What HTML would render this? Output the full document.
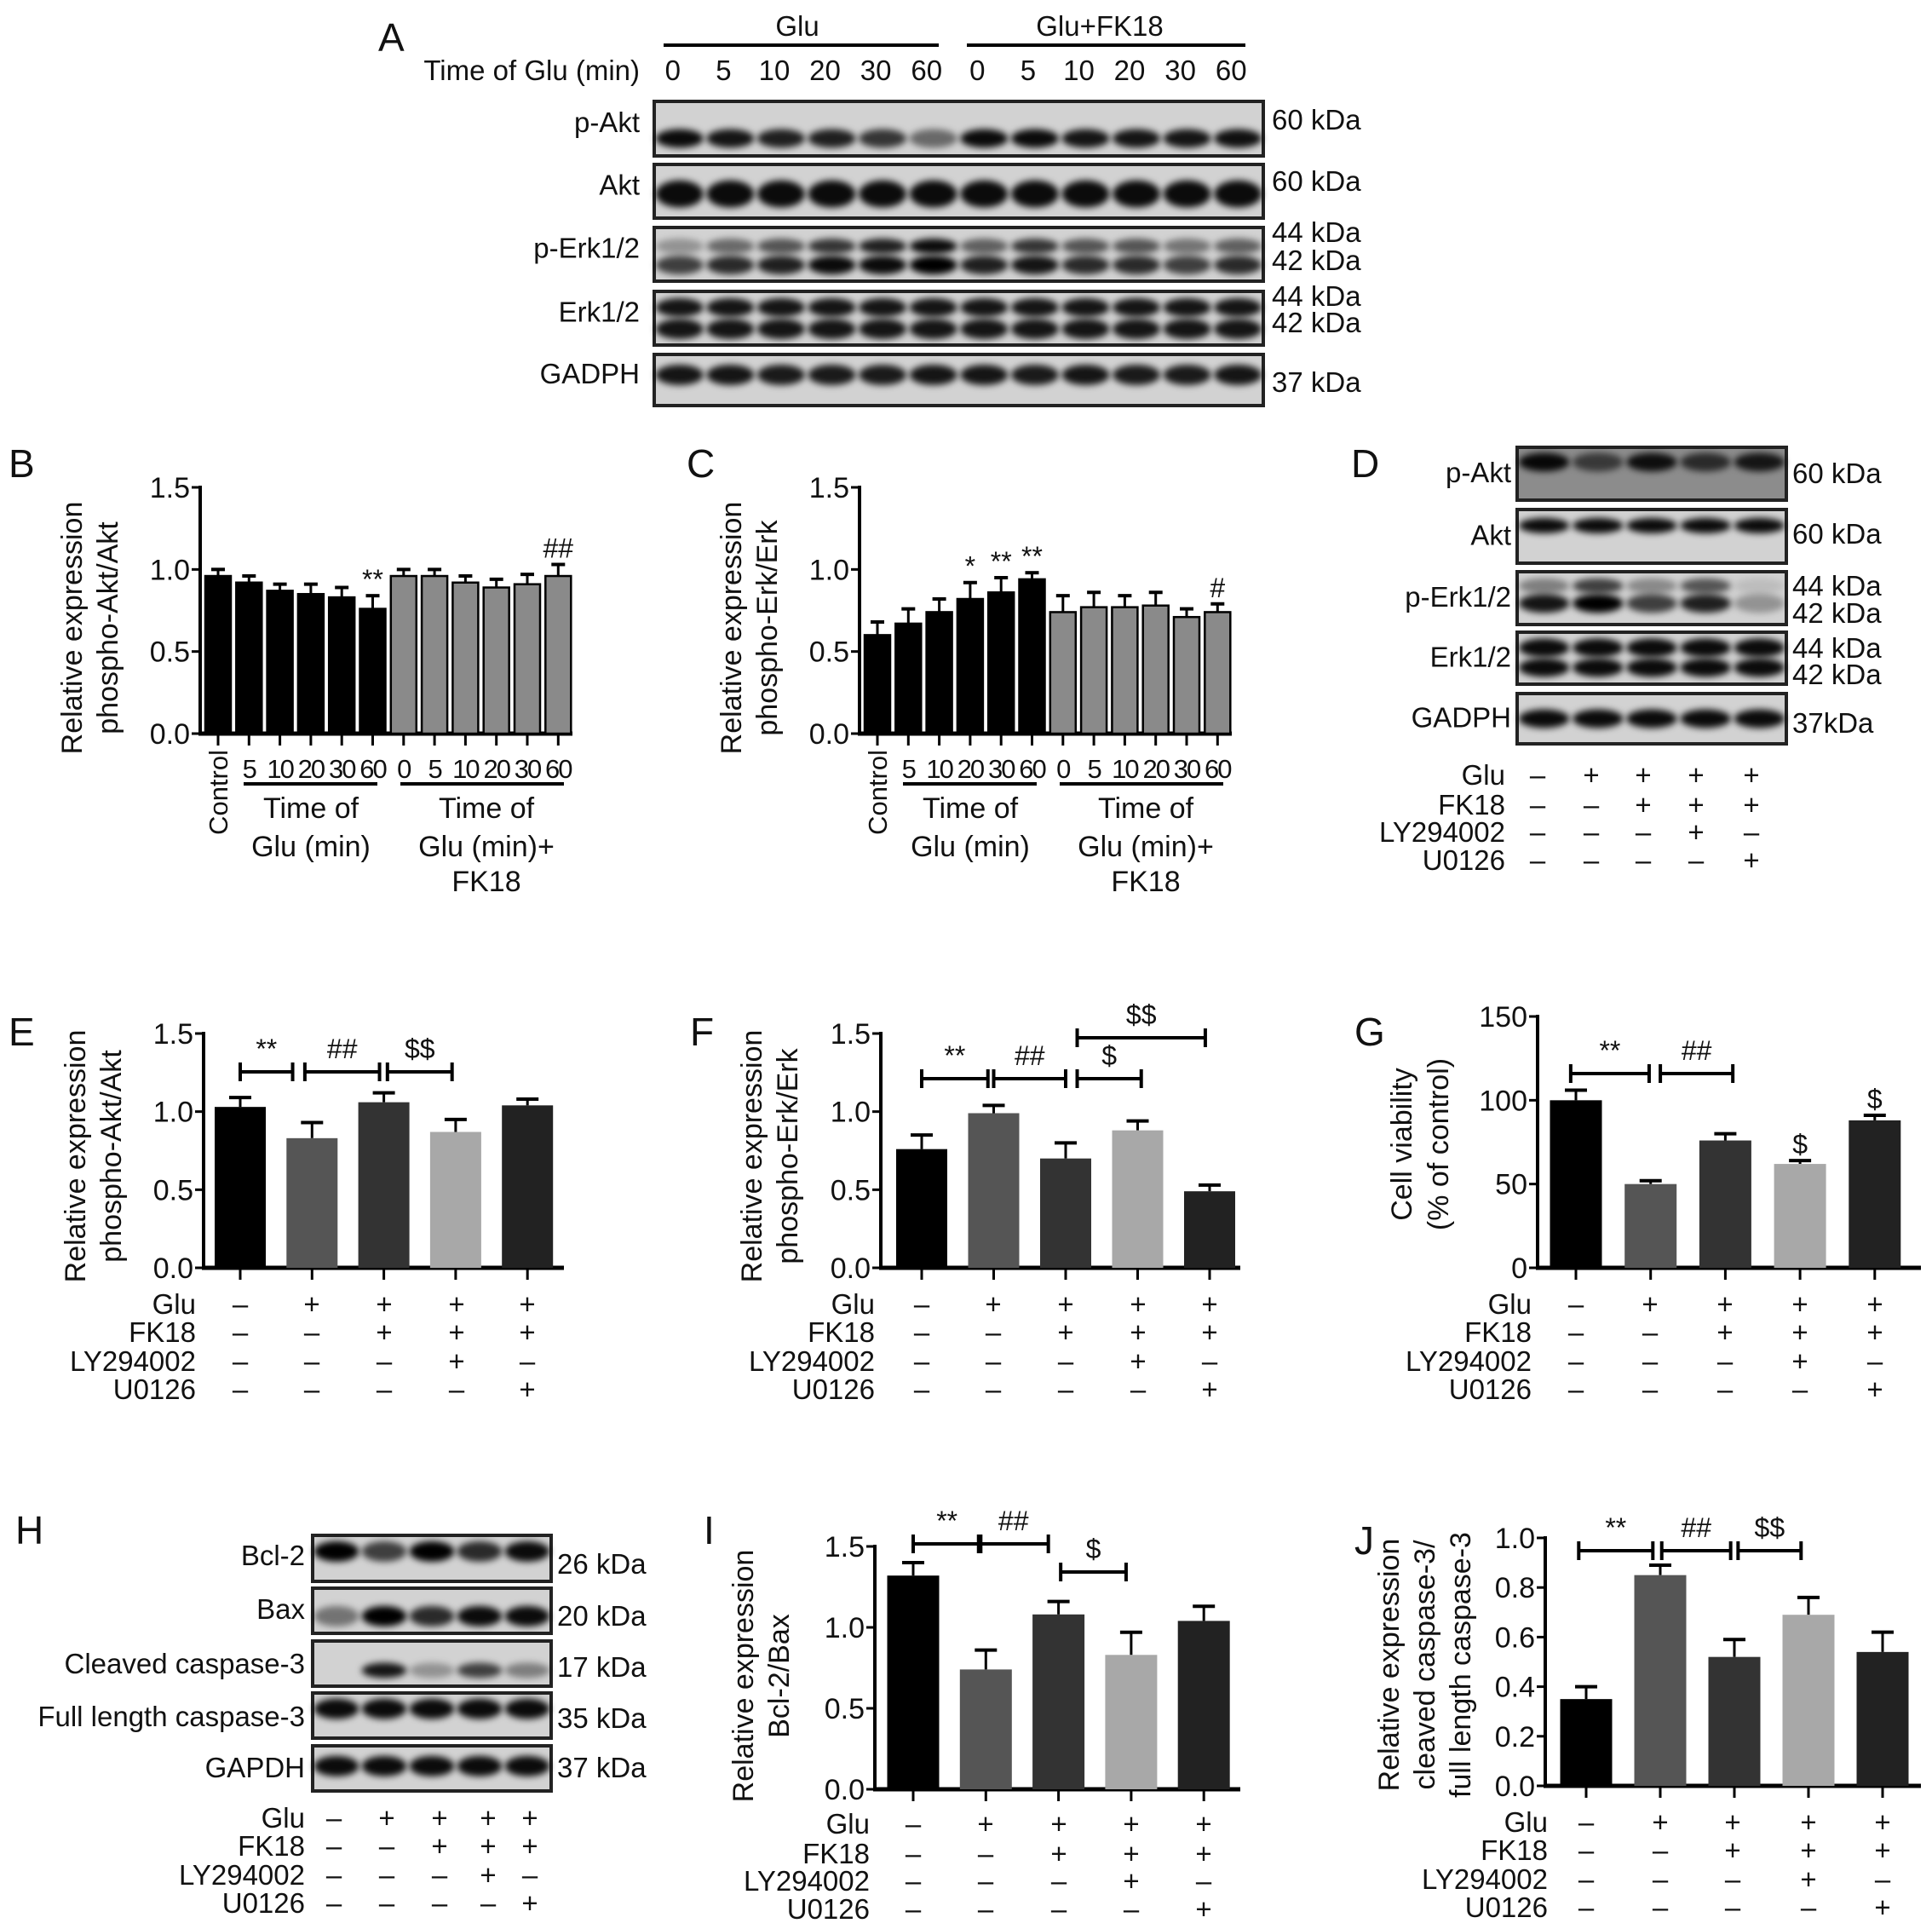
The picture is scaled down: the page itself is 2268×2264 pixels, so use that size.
<!DOCTYPE html>
<html><head><meta charset="utf-8"><title>Figure</title>
<style>
html,body{margin:0;padding:0;background:#fff;}
svg{display:block;font-family:"Liberation Sans",Arial,sans-serif;}
</style></head>
<body>
<svg id="fig" xmlns="http://www.w3.org/2000/svg" width="2268" height="2264" viewBox="0 0 2268 2264">
<defs><filter id="blur" x="-30%" y="-100%" width="160%" height="300%"><feGaussianBlur stdDeviation="4"/></filter></defs>
<rect x="0" y="0" width="2268" height="2264" fill="#fff"/>
</svg>
<script>
// ---------- data ----------
const tickVals15 = [0, 0.5, 1.0, 1.5];
const tickLbl15 = ["0.0", "0.5", "1.0", "1.5"];
const tickValsG = [0, 50, 100, 150];
const tickLblG = ["0", "50", "100", "150"];
const tickValsJ = [0, 0.2, 0.4, 0.6, 0.8, 1.0];
const tickLblJ = ["0.0", "0.2", "0.4", "0.6", "0.8", "1.0"];

const timeLabels = ["0", "5", "10", "20", "30", "60", "0", "5", "10", "20", "30", "60"];
const bCats = ["Control", "5", "10", "20", "30", "60", "0", "5", "10", "20", "30", "60"];
const bVals = [0.96, 0.92, 0.87, 0.85, 0.83, 0.76, 0.96, 0.96, 0.92, 0.89, 0.91, 0.96];
const bErr = [0.04, 0.04, 0.04, 0.06, 0.06, 0.08, 0.04, 0.04, 0.04, 0.05, 0.06, 0.07];
const bSig = ["", "", "", "", "", "**", "", "", "", "", "", "##"];
const cVals = [0.60, 0.67, 0.74, 0.82, 0.86, 0.94, 0.74, 0.77, 0.77, 0.78, 0.71, 0.74];
const cErr = [0.08, 0.09, 0.08, 0.10, 0.09, 0.04, 0.10, 0.09, 0.07, 0.08, 0.05, 0.05];
const cSig = ["", "", "", "*", "**", "**", "", "", "", "", "", "#"];

const treatRows = ["Glu", "FK18", "LY294002", "U0126"];
const treatSigns = [["–","+","+","+","+"],["–","–","+","+","+"],["–","–","–","+","–"],["–","–","–","–","+"]];

const eVals = [1.03, 0.83, 1.06, 0.87, 1.04];
const eErr = [0.06, 0.10, 0.06, 0.08, 0.04];
const fVals = [0.76, 0.99, 0.70, 0.88, 0.49];
const fErr = [0.09, 0.05, 0.10, 0.06, 0.04];
const gVals = [100, 50, 76, 62, 88];
const gErr = [6, 2, 4, 2, 3];
const gSig = ["", "", "", "$", "$"];
const iVals = [1.32, 0.74, 1.08, 0.83, 1.04];
const iErr = [0.08, 0.12, 0.08, 0.14, 0.09];
const jVals = [0.35, 0.85, 0.52, 0.69, 0.54];
const jErr = [0.05, 0.04, 0.07, 0.07, 0.08];
const fiveColors = ["#000000", "#555555", "#333333", "#a8a8a8", "#222222"];

// blot band intensities
const aPAkt = [0.95, 0.9, 0.85, 0.85, 0.75, 0.5, 0.95, 0.95, 0.9, 0.9, 0.9, 0.92];
const aAkt = [0.95, 0.95, 0.95, 0.95, 0.95, 0.95, 0.95, 0.95, 0.95, 0.95, 0.95, 0.95];
const aPErk44 = [0.3, 0.5, 0.6, 0.75, 0.85, 0.95, 0.55, 0.75, 0.6, 0.6, 0.45, 0.55];
const aPErk42 = [0.7, 0.8, 0.85, 0.95, 0.95, 1, 0.85, 0.9, 0.8, 0.8, 0.7, 0.8];
const aErk = [0.9, 0.9, 0.9, 0.9, 0.9, 0.9, 0.9, 0.9, 0.9, 0.9, 0.9, 0.9];
const aGapdh = [0.9, 0.9, 0.88, 0.88, 0.88, 0.9, 0.9, 0.88, 0.9, 0.88, 0.88, 0.9];
const dPAkt = [0.95, 0.6, 0.9, 0.7, 0.85];
const dAkt = [0.95, 0.95, 0.95, 0.95, 0.95];
const dPErk44 = [0.4, 0.7, 0.35, 0.6, 0.1];
const dPErk42 = [0.9, 1, 0.7, 0.85, 0.3];
const dErk = [0.95, 0.95, 0.95, 0.95, 0.95];
const dGapdh = [0.95, 0.95, 0.95, 0.95, 0.95];
const hBcl2 = [1, 0.7, 1, 0.8, 0.95];
const hBax = [0.45, 1, 0.8, 0.95, 0.95];
const hCl3 = [0, 0.9, 0.3, 0.7, 0.4];
const hFull = [0.95, 0.95, 0.95, 0.95, 0.95];
const hGapdh = [0.95, 0.95, 0.95, 0.95, 0.95];

// ---------- helpers ----------
const NS = "http://www.w3.org/2000/svg";
const svg = document.getElementById("fig");
const FS = 34;
function mk(tag, attrs, parent) {
  const e = document.createElementNS(NS, tag);
  for (const k in attrs) e.setAttribute(k, attrs[k]);
  (parent || svg).appendChild(e);
  return e;
}
function txt(s, x, y, size, anchor, parent) {
  const t = mk("text", {x: x, y: y, "font-size": size, "text-anchor": anchor || "start", fill: "#111"}, parent);
  t.textContent = s;
  return t;
}
function group(name) {
  const g = mk("g", {});
  
  
  return g;
}
function yScale(ax, v) { return ax.y0 - (v - ax.min) / (ax.max - ax.min) * (ax.y0 - ax.y1); }
function xBand(ax, i) { return ax.c0 + i * ax.step; }

function panelLetter(s, x, y) {
  const t = txt(s, x, y, 46, "start");
  
  
}

function drawAxes(g, ax, tv, tl) {
  const yl = mk("line", {x1: ax.x, y1: ax.y1 - 2, x2: ax.x, y2: ax.y0, stroke: "#000", "stroke-width": 4}, g);
  
  
  for (let i = 0; i < tv.length; i++) {
    const y = yScale(ax, tv[i]);
    const tk = mk("line", {x1: ax.x - 10, y1: y, x2: ax.x, y2: y, stroke: "#000", "stroke-width": 3}, g);
    
    
    const t = txt(tl[i], ax.x - 12, y + 12, FS, "end", g);
    
    
  }
  const xl = mk("line", {x1: ax.x - 2, y1: ax.y0, x2: ax.xEnd, y2: ax.y0, stroke: "#000", "stroke-width": 5}, g);
  
  
}

function drawBars(g, ax, vals, errs, colors, sig, capHalf, outline) {
  for (let i = 0; i < vals.length; i++) {
    const c = xBand(ax, i);
    const y = yScale(ax, vals[i]);
    const ye = yScale(ax, vals[i] + errs[i]);
    const el = mk("line", {x1: c, y1: y, x2: c, y2: ye, stroke: "#000", "stroke-width": 3}, g);
    
    
    const cap = mk("line", {x1: c - capHalf, y1: ye, x2: c + capHalf, y2: ye, stroke: "#000", "stroke-width": 4}, g);
    
    
    const r = mk("rect", {x: c - ax.bw / 2, y: y, width: ax.bw, height: ax.y0 - y, fill: colors[i]}, g);
    if (outline) { r.setAttribute("stroke", "#000"); r.setAttribute("stroke-width", 2.5); }
    
    
    const tk = mk("line", {x1: c, y1: ax.y0, x2: c, y2: ax.y0 + 14, stroke: "#000", "stroke-width": 3}, g);
    
    
    if (sig && sig[i]) {
      const s = txt(sig[i], c, ye - 8, 32, "middle", g);
      
      
    }
  }
}

function bracket(g, ax, a, b, y, label) {
  const x1 = xBand(ax, a), x2 = xBand(ax, b);
  const l = mk("path", {d: "M" + x1 + " " + (y - 11) + "V" + (y + 11) + "M" + x1 + " " + y + "H" + x2 + "M" + x2 + " " + (y - 11) + "V" + (y + 11), stroke: "#000", "stroke-width": 4, fill: "none"}, g);
  
  
  const t = txt(label, (x1 + x2) / 2, y - 16, 32, "middle", g);
  
  
}

function yTitle(g, lines, x0, dx, cy) {
  for (let i = 0; i < lines.length; i++) {
    const x = x0 + i * dx;
    const t = mk("text", {x: x, y: cy, "font-size": 34, "text-anchor": "middle", fill: "#111", transform: "rotate(-90 " + x + " " + cy + ")"}, g);
    t.textContent = lines[i];
    
    
  }
}

function treatTable(g, labelX, rowYs, colXs) {
  for (let r = 0; r < treatRows.length; r++) {
    const t = txt(treatRows[r], labelX, rowYs[r] + 12, 33, "end", g);
    
    
    for (let c = 0; c < 5; c++) {
      const s = txt(treatSigns[r][c], colXs[c], rowYs[r] + 12, 33, "middle", g);
      
      
    }
  }
}

function blot(g, x, y, w, h, nLanes, name, bg) {
  const r = mk("rect", {x: x, y: y, width: w, height: h, fill: bg || "#d2d2d2", stroke: "#222", "stroke-width": 4}, g);
  
  
  return {x: x, y: y, w: w, h: h, lw: w / nLanes};
}
function bands(g, b, vals, relY, ry) {
  for (let i = 0; i < vals.length; i++) {
    if (vals[i] <= 0) continue;
    const e = mk("ellipse", {cx: b.x + b.lw * (i + 0.5), cy: b.y + b.h * relY, rx: b.lw * 0.47, ry: ry, fill: "#000", "fill-opacity": vals[i], filter: "url(#blur)"}, g);
    
    
  }
}
function rowLabel(g, s, x, y, anchor) {
  const t = txt(s, x, y + 12, 33, anchor, g);
  
  
}

// ---------- Panel A ----------
panelLetter("A", 444, 60);
(function () {
  const g = group("panel-a");
  const bx = 768, bw = 715;
  let t = txt("Glu", 936, 42, 33, "middle", g);  
  t = txt("Glu+FK18", 1291, 42, 33, "middle", g);  
  let l = mk("line", {x1: 779, y1: 53, x2: 1102, y2: 53, stroke: "#000", "stroke-width": 4}, g);  
  l = mk("line", {x1: 1135, y1: 53, x2: 1462, y2: 53, stroke: "#000", "stroke-width": 4}, g);  
  rowLabel(g, "Time of Glu (min)", 751, 82, "end");
  for (let i = 0; i < timeLabels.length; i++) {
    const n = txt(timeLabels[i], bx + (i + 0.5) * bw / 12 - 8, 94, 33, "middle", g);
    
    
  }
  const rows = [
    {n: "p-Akt", y: 119, h: 64, k: [["60 kDa", 140]]},
    {n: "Akt", y: 193, h: 63, k: [["60 kDa", 212]]},
    {n: "p-Erk1/2", y: 267, h: 63, k: [["44 kDa", 272], ["42 kDa", 305]]},
    {n: "Erk1/2", y: 342, h: 63, k: [["44 kDa", 347], ["42 kDa", 378]]},
    {n: "GADPH", y: 416, h: 60, k: [["37 kDa", 448]]}
  ];
  const bl = [];
  for (const r of rows) {
    bl.push(blot(g, bx, r.y, bw, r.h, 12, "blot-" + r.n.toLowerCase()));
    rowLabel(g, r.n, 751, r.y + r.h / 2 - 8, "end");
    for (const k of r.k) rowLabel(g, k[0], 1493, k[1], "start");
  }
  bands(g, bl[0], aPAkt, 0.68, 11);
  bands(g, bl[1], aAkt, 0.55, 16);
  bands(g, bl[2], aPErk44, 0.35, 9);
  bands(g, bl[2], aPErk42, 0.7, 11);
  bands(g, bl[3], aErk, 0.3, 11);
  bands(g, bl[3], aErk, 0.7, 12);
  bands(g, bl[4], aGapdh, 0.4, 12);
})();

// ---------- Panel B ----------
panelLetter("B", 10, 560);
(function () {
  const g = group("panel-b-chart");
  const ax = {x: 235, y0: 861, y1: 572, min: 0, max: 1.5, xEnd: 672, c0: 256, step: 36.3, bw: 30};
  drawAxes(g, ax, tickVals15, tickLbl15);
  const cols = bVals.map((v, i) => i < 6 ? "#000" : "#8a8a8a");
  drawBars(g, ax, bVals, bErr, cols, bSig, 8, true);
  xLabels12(g, ax);
  yTitle(g, ["Relative expression", "phospho-Akt/Akt"], 96, 42, 737);
})();
function xLabels12(g, ax) {
  for (let i = 0; i < bCats.length; i++) {
    const c = xBand(ax, i);
    let t;
    if (i === 0) {
      t = mk("text", {x: c + 11, y: 880, "font-size": 31, "text-anchor": "end", fill: "#111", transform: "rotate(-90 " + (c + 11) + " 880)"}, g);
      t.textContent = bCats[i];
    } else {
      t = txt(bCats[i], c, 913, 31, "middle", g);
      t.setAttribute("letter-spacing", "-2");
    }
    
    
  }
  const x0 = ax.x;
  let l = mk("line", {x1: x0 + 51, y1: 920, x2: x0 + 208, y2: 920, stroke: "#000", "stroke-width": 4}, g);  
  l = mk("line", {x1: x0 + 235, y1: 920, x2: x0 + 427, y2: 920, stroke: "#000", "stroke-width": 4}, g);  
  const gl = [["Time of", x0 + 130, 960], ["Glu (min)", x0 + 130, 1005], ["Time of", x0 + 336, 960], ["Glu (min)+", x0 + 336, 1005], ["FK18", x0 + 336, 1046]];
  for (const q of gl) {
    const t = txt(q[0], q[1], q[2], 34, "middle", g);
    
    
  }
}
// ---------- Panel C ----------
panelLetter("C", 806, 560);
(function () {
  const g = group("panel-c-chart");
  const ax = {x: 1009, y0: 861, y1: 572, min: 0, max: 1.5, xEnd: 1446, c0: 1030, step: 36.3, bw: 30};
  drawAxes(g, ax, tickVals15, tickLbl15);
  const cols = cVals.map((v, i) => i < 6 ? "#000" : "#8a8a8a");
  drawBars(g, ax, cVals, cErr, cols, cSig, 8, true);
  xLabels12(g, ax);
  yTitle(g, ["Relative expression", "phospho-Erk/Erk"], 870, 42, 737);
})();

// ---------- Panel D ----------
panelLetter("D", 1586, 560);
(function () {
  const g = group("panel-d");
  const bx = 1781, bw = 316;
  const rows = [
    {n: "p-Akt", y: 525, h: 62, k: [["60 kDa", 555]], bg: "#8c8c8c"},
    {n: "Akt", y: 598, h: 63, k: [["60 kDa", 626]]},
    {n: "p-Erk1/2", y: 671, h: 62, k: [["44 kDa", 687], ["42 kDa", 719]]},
    {n: "Erk1/2", y: 742, h: 61, k: [["44 kDa", 760], ["42 kDa", 791]]},
    {n: "GADPH", y: 814, h: 59, k: [["37kDa", 848]]}
  ];
  const bl = [];
  for (const r of rows) {
    bl.push(blot(g, bx, r.y, bw, r.h, 5, "blot-" + r.n.toLowerCase(), r.bg));
    rowLabel(g, r.n, 1774, r.y + r.h / 2 - 2, "end");
    for (const k of r.k) rowLabel(g, k[0], 2104, k[1], "start");
  }
  bands(g, bl[0], dPAkt, 0.28, 11);
  bands(g, bl[1], dAkt, 0.3, 9);
  bands(g, bl[2], dPErk44, 0.27, 9);
  bands(g, bl[2], dPErk42, 0.6, 11);
  bands(g, bl[3], dErk, 0.3, 11);
  bands(g, bl[3], dErk, 0.68, 11);
  bands(g, bl[4], dGapdh, 0.5, 11);
  treatTable(g, 1767, [909, 944, 976, 1009], [1805, 1868, 1929, 1991, 2056]);
})();

// ---------- Panel E ----------
panelLetter("E", 10, 1227);
(function () {
  const g = group("panel-e-chart");
  const ax = {x: 239, y0: 1488, y1: 1213, min: 0, max: 1.5, xEnd: 662, c0: 282, step: 84.3, bw: 60};
  drawAxes(g, ax, tickVals15, tickLbl15);
  drawBars(g, ax, eVals, eErr, fiveColors, null, 13, false);
  bracket(g, ax, 0, 0.73, 1258, "**");
  bracket(g, ax, 0.9, 1.94, 1258, "##");
  bracket(g, ax, 2.05, 2.95, 1258, "$$");
  treatTable(g, 230, [1530, 1563, 1597, 1630], [282, 366, 451, 536, 619]);
  yTitle(g, ["Relative expression", "phospho-Akt/Akt"], 100, 42, 1357);
})();
// ---------- Panel F ----------
panelLetter("F", 810, 1227);
(function () {
  const g = group("panel-f-chart");
  const ax = {x: 1034, y0: 1488, y1: 1213, min: 0, max: 1.5, xEnd: 1456, c0: 1082, step: 84.5, bw: 60};
  drawAxes(g, ax, tickVals15, tickLbl15);
  drawBars(g, ax, fVals, fErr, fiveColors, null, 13, false);
  bracket(g, ax, 0, 0.92, 1266, "**");
  bracket(g, ax, 1.0, 2.0, 1266, "##");
  bracket(g, ax, 2.16, 3.05, 1266, "$");
  bracket(g, ax, 2.16, 3.94, 1218, "$$");
  treatTable(g, 1027, [1530, 1563, 1597, 1630], [1082, 1166, 1251, 1336, 1420]);
  yTitle(g, ["Relative expression", "phospho-Erk/Erk"], 894, 42, 1357);
})();
// ---------- Panel G ----------
panelLetter("G", 1590, 1227);
(function () {
  const g = group("panel-g-chart");
  const ax = {x: 1805, y0: 1488, y1: 1193, min: 0, max: 150, xEnd: 2255, c0: 1850, step: 87.7, bw: 61};
  drawAxes(g, ax, tickValsG, tickLblG);
  drawBars(g, ax, gVals, gErr, fiveColors, gSig, 13, false);
  bracket(g, ax, -0.07, 0.98, 1260, "**");
  bracket(g, ax, 1.13, 2.1, 1260, "##");
  treatTable(g, 1798, [1530, 1563, 1597, 1630], [1850, 1937, 2025, 2113, 2201]);
  yTitle(g, ["Cell viability", "(% of control)"], 1657, 43, 1343);
})();

// ---------- Panel H ----------
panelLetter("H", 18, 1812);
(function () {
  const g = group("panel-h");
  const bx = 367, bw = 280;
  const rows = [
    {n: "Bcl-2", y: 1802, h: 54, k: "26 kDa", ky: 1835, ly: 1825},
    {n: "Bax", y: 1864, h: 53, k: "20 kDa", ky: 1896, ly: 1888},
    {n: "Cleaved caspase-3", y: 1926, h: 53, k: "17 kDa", ky: 1956, ly: 1952},
    {n: "Full length caspase-3", y: 1987, h: 53, k: "35 kDa", ky: 2016, ly: 2014},
    {n: "GAPDH", y: 2049, h: 53, k: "37 kDa", ky: 2074, ly: 2074}
  ];
  const bl = [];
  for (const r of rows) {
    bl.push(blot(g, bx, r.y, bw, r.h, 5, "blot-" + r.n.toLowerCase().replace(/ /g, "-")));
    rowLabel(g, r.n, 358, r.ly, "end");
    rowLabel(g, r.k, 654, r.ky, "start");
  }
  bands(g, bl[0], hBcl2, 0.35, 12);
  bands(g, bl[1], hBax, 0.62, 12);
  bands(g, bl[2], hCl3, 0.65, 9);
  bands(g, bl[3], hFull, 0.35, 12);
  bands(g, bl[4], hGapdh, 0.45, 12);
  treatTable(g, 358, [2133, 2166, 2200, 2233], [392, 454, 516, 573, 622]);
})();
// ---------- Panel I ----------
panelLetter("I", 826, 1812);
(function () {
  const g = group("panel-i-chart");
  const ax = {x: 1027, y0: 2100, y1: 1815, min: 0, max: 1.5, xEnd: 1456, c0: 1072, step: 85.3, bw: 61};
  drawAxes(g, ax, tickVals15, tickLbl15);
  drawBars(g, ax, iVals, iErr, fiveColors, null, 13, false);
  bracket(g, ax, 0, 0.93, 1812, "**");
  bracket(g, ax, 0.9, 1.86, 1812, "##");
  bracket(g, ax, 2.03, 2.93, 1845, "$");
  treatTable(g, 1021, [2140, 2175, 2207, 2240], [1072, 1157, 1243, 1328, 1413]);
  yTitle(g, ["Relative expression", "Bcl-2/Bax"], 884, 42, 1967);
})();
// ---------- Panel J ----------
panelLetter("J", 1590, 1824);
(function () {
  const g = group("panel-j-chart");
  const ax = {x: 1814, y0: 2096, y1: 1805, min: 0, max: 1.0, xEnd: 2255, c0: 1862, step: 87, bw: 61};
  drawAxes(g, ax, tickValsJ, tickLblJ);
  drawBars(g, ax, jVals, jErr, fiveColors, null, 13, false);
  bracket(g, ax, -0.1, 0.9, 1820, "**");
  bracket(g, ax, 1.02, 1.95, 1820, "##");
  bracket(g, ax, 2.05, 2.9, 1820, "$$");
  treatTable(g, 1817, [2138, 2171, 2205, 2238], [1862, 1949, 2034, 2123, 2210]);
  yTitle(g, ["Relative expression", "cleaved caspase-3/", "full length caspase-3"], 1642, 42, 1954);
})();
</script>
</body></html>
